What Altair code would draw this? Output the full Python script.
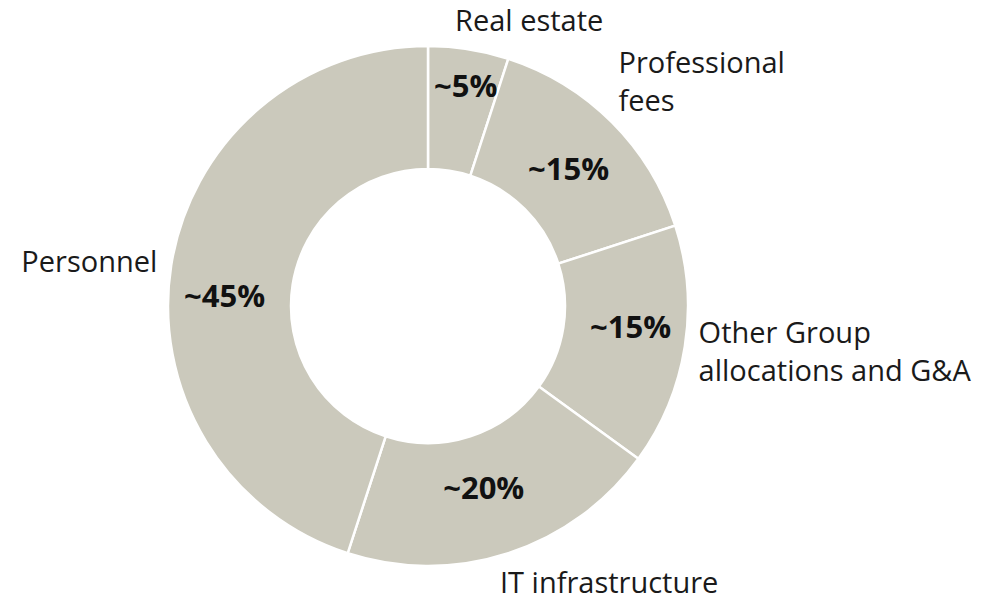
import altair as alt
import pandas as pd

categories = ["Real estate", "Professional fees", "Other Group allocations and G&A",
              "IT infrastructure", "Personnel"]
shares = [5, 15, 15, 20, 45]
pct_labels = ["~5%", "~15%", "~15%", "~20%", "~45%"]
outer_labels = ["Real estate", "Professional\nfees", "Other Group\nallocations and G&A",
                "IT infrastructure", "Personnel"]
order_idx = [0, 1, 2, 3, 4]

df = pd.DataFrame({"category": categories, "share": shares, "pct": pct_labels,
                   "label": outer_labels, "idx": order_idx})

FONT = "Open Sans"
CX, CY = 420, 297

base = (
    alt.Chart(df)
    .transform_joinaggregate(total="sum(share)")
    .transform_window(cum="sum(share)", sort=[alt.SortField("idx")], frame=[None, 0])
    .transform_calculate(start="2*PI*(datum.cum-datum.share)/datum.total")
    .transform_calculate(end="2*PI*datum.cum/datum.total")
    .transform_calculate(mid="(datum.start+datum.end)/2")
)

arcs = base.mark_arc(radius=260, radius2=137, stroke="white", strokeWidth=2.5,
                     color="#CBC9BC").encode(
    theta=alt.Theta("start:Q", scale=None),
    theta2="end:Q",
    x=alt.value(CX), y=alt.value(CY),
)


def pct(name, dx, dy):
    return base.transform_filter(alt.datum.category == name).mark_text(
        radius=203, font=FONT, fontSize=31, fontWeight="bold", color="#111111",
        align="center", baseline="middle", dx=dx, dy=dy,
    ).encode(
        theta=alt.Theta("mid:Q", scale=None),
        x=alt.value(CX), y=alt.value(CY),
        text="pct:N",
    )


def outer(name, align, dx, dy):
    return base.transform_filter(alt.datum.category == name).mark_text(
        radius=275, font=FONT, fontSize=29, color="#1a1a1a",
        align=align, baseline="middle", lineBreak="\n", lineHeight=38, dx=dx, dy=dy,
    ).encode(
        theta=alt.Theta("mid:Q", scale=None),
        x=alt.value(CX), y=alt.value(CY),
        text="label:N",
    )


layers = [
    arcs,
    pct(categories[0], 6, -17),
    pct(categories[1], -3, 9),
    pct(categories[2], 2, -9),
    pct(categories[3], -7, -9),
    pct(categories[4], -3, 24),
    outer(categories[0], "left", -16, -12),
    outer(categories[1], "left", -4, -48),
    outer(categories[2], "left", -1, -15),
    outer(categories[3], "left", -13, 16),
    outer(categories[4], "right", 1, 0),
]

chart = alt.layer(*layers).properties(
    width=987, height=585, padding=0
).configure_view(stroke=None)

chart.save("out.html", embed_options={"renderer": "svg", "actions": False})
